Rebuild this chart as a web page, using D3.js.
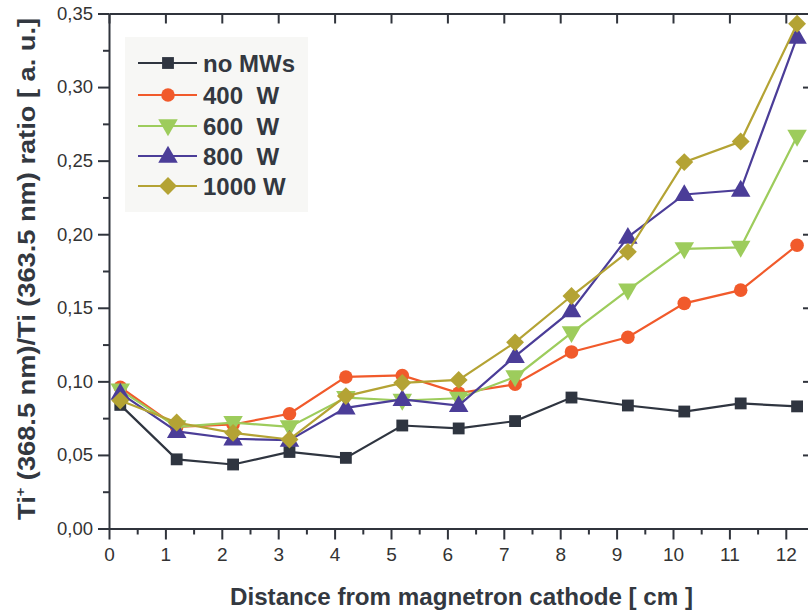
<!DOCTYPE html>
<html><head><meta charset="utf-8">
<script src="https://cdn.jsdelivr.net/npm/d3@7"></script>
<style>
body{margin:0;background:#fff;}
svg{display:block;font-family:"Liberation Sans",Arial,Helvetica,sans-serif;}
</style></head>
<body><svg id="chart" width="808" height="611"></svg>
<script>
const distances = [0.2,1.2,2.2,3.2,4.2,5.2,6.2,7.2,8.2,9.2,10.2,11.2,12.2];
const noMWs  = [0.084,0.047,0.0435,0.052,0.048,0.070,0.068,0.073,0.089,0.0836,0.0795,0.085,0.083];
const w400   = [0.096,0.069,0.0707,0.078,0.103,0.104,0.092,0.098,0.120,0.130,0.153,0.162,0.1925];
const w600   = [0.094,0.069,0.072,0.069,0.089,0.087,0.0885,0.103,0.133,0.162,0.190,0.191,0.2665];
const w800   = [0.092,0.066,0.061,0.060,0.082,0.0877,0.0836,0.117,0.148,0.198,0.227,0.230,0.334];
const w1000  = [0.087,0.072,0.065,0.0605,0.090,0.099,0.101,0.1265,0.158,0.188,0.249,0.263,0.343];
const seriesNames = ["no MWs","400  W","600  W","800  W","1000 W"];
const xTicks = [0,1,2,3,4,5,6,7,8,9,10,11,12];
const yTicks = [0,0.05,0.10,0.15,0.20,0.25,0.30,0.35];

const colors = ["#2f3540","#f15a2b","#9dcc5c","#4b3d98","#b4a334"];
const symbols = ["square","circle","down","up","diamond"];
const sizes = [140, 145, 165, 165, 160];
const seriesData = [noMWs,w400,w600,w800,w1000];

const svg = d3.select("#chart");
const x = d3.scaleLinear().domain([0,12.5]).range([109, 109+12.5*56.4]);
const y = d3.scaleLinear().domain([0,0.35]).range([528.5, 13.5]);
const axisColor = "#30343c";
const fmt = v => d3.format(".2f")(v).replace(".", ",");

function styleAxis(g){
  g.selectAll("path.domain").attr("stroke", axisColor).attr("stroke-width", 2);
  g.selectAll(".tick line").attr("stroke", axisColor).attr("stroke-width", 2);
  g.selectAll("text").attr("fill", "#333").attr("font-family","Liberation Sans, Arial, sans-serif");
}
const xMinor = d3.range(0.5, 12.5, 1);
const yMinor = d3.range(0.025, 0.35, 0.05);

const gb = svg.append("g").attr("transform", `translate(0,${y(0)})`)
  .call(d3.axisBottom(x).tickValues(xTicks).tickSize(11).tickSizeOuter(0).tickPadding(8).tickFormat(d3.format("d")));
gb.selectAll("text").attr("font-size", 19);
styleAxis(gb);
svg.append("g").attr("transform", `translate(0,${y(0)})`)
  .call(d3.axisBottom(x).tickValues(xMinor).tickSize(6).tickSizeOuter(0).tickFormat(""))
  .call(g=>{g.select("path.domain").remove(); styleAxis(g);});
const gt = svg.append("g").attr("transform", `translate(0,${y(0.35)})`)
  .call(d3.axisTop(x).tickValues(xTicks).tickSize(-10).tickSizeOuter(0).tickFormat(""));
styleAxis(gt);
const gl = svg.append("g").attr("transform", `translate(${x(0)},0)`)
  .call(d3.axisLeft(y).tickValues(yTicks).tickSize(11).tickSizeOuter(0).tickPadding(5).tickFormat(fmt));
gl.selectAll("text").attr("font-size", 18.5);
styleAxis(gl);
svg.append("g").attr("transform", `translate(${x(0)},0)`)
  .call(d3.axisLeft(y).tickValues(yMinor).tickSize(6).tickSizeOuter(0).tickFormat(""))
  .call(g=>{g.select("path.domain").remove(); styleAxis(g);});
const gr = svg.append("g").attr("transform", `translate(${x(12.5)},0)`)
  .call(d3.axisRight(y).tickValues(yTicks).tickSize(-11).tickSizeOuter(0).tickFormat(""));
styleAxis(gr);
svg.append("g").attr("transform", `translate(${x(12.5)},0)`)
  .call(d3.axisRight(y).tickValues(yMinor).tickSize(-6).tickSizeOuter(0).tickFormat(""))
  .call(g=>{g.select("path.domain").remove(); styleAxis(g);});

function markerPath(i){
  const s = symbols[i];
  const t = s === "circle" ? d3.symbolCircle : (s === "down" || s === "up") ? d3.symbolTriangle : d3.symbolSquare;
  return d3.symbol().type(t).size(sizes[i])();
}
function markerTransform(i, cx, cy){
  const s = symbols[i];
  if (s === "down") return `translate(${cx},${cy-1}) rotate(180)`;
  if (s === "up") return `translate(${cx},${cy+1})`;
  if (s === "diamond") return `translate(${cx},${cy}) rotate(45)`;
  return `translate(${cx},${cy})`;
}

const line = d3.line().x(d=>x(d[0])).y(d=>y(d[1]));
seriesData.forEach((vals,i)=>{
  const pts = distances.map((d,j)=>[d, vals[j]]);
  const g = svg.append("g");
  g.append("path").attr("d", line(pts)).attr("fill","none")
    .attr("stroke", colors[i]).attr("stroke-width", 2.2);
  g.selectAll("path.m").data(pts).enter().append("path").attr("class","m")
    .attr("d", markerPath(i))
    .attr("transform", d=>markerTransform(i, x(d[0]), y(d[1])))
    .attr("fill", colors[i]);
});

const lg = svg.append("g");
lg.append("rect").attr("x",125).attr("y",37).attr("width",183).attr("height",175).attr("fill","#f7f7f5");
const legY = [63, 95, 126, 156, 186];
seriesNames.forEach((name,i)=>{
  lg.append("line").attr("x1",138).attr("x2",197).attr("y1",legY[i]).attr("y2",legY[i])
    .attr("stroke",colors[i]).attr("stroke-width",2.2);
  lg.append("path").attr("d", markerPath(i)).attr("transform", markerTransform(i,168,legY[i])).attr("fill",colors[i]);
  lg.append("text").attr("x",203).attr("y",legY[i]+8.5).attr("font-size",24).attr("font-weight","bold")
    .attr("fill","#333840").style("white-space","pre").text(name);
});

svg.append("text").attr("x", 461.5).attr("y", 605).attr("text-anchor","middle")
  .attr("font-size", 24).attr("font-weight","bold").attr("fill","#333840")
  .attr("textLength", 463).attr("lengthAdjust","spacingAndGlyphs")
  .text("Distance from magnetron cathode [ cm ]");

const yt = svg.append("text").attr("transform","translate(35,269) rotate(-90)").attr("text-anchor","middle")
  .attr("font-size", 24).attr("font-weight","bold").attr("fill","#333840")
  .attr("textLength", 502).attr("lengthAdjust","spacingAndGlyphs");
yt.append("tspan").text("Ti");
yt.append("tspan").attr("font-size",13).attr("dy",-10).text("+");
yt.append("tspan").attr("dy",10).text(" (368.5 nm)/Ti (363.5 nm) ratio [ a. u.]");
</script>
</body></html>
